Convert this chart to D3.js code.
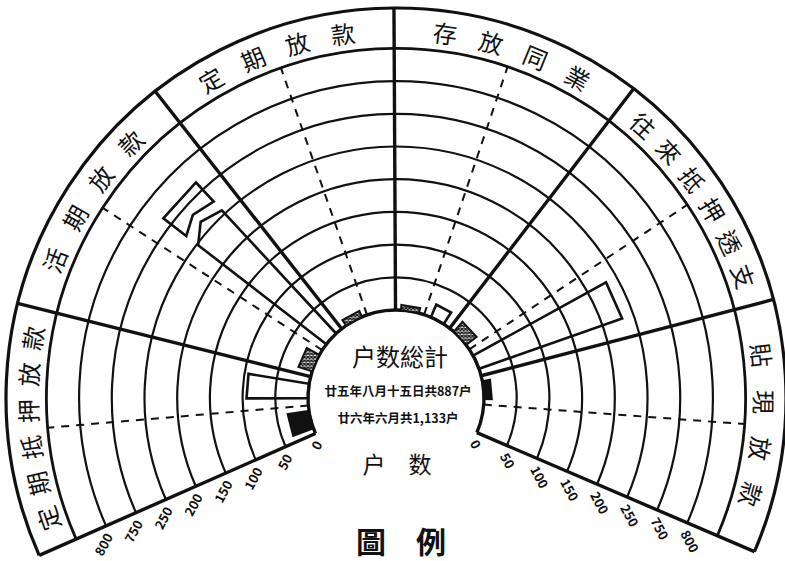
<!DOCTYPE html>
<html>
<head>
<meta charset="utf-8">
<script src="https://cdn.jsdelivr.net/npm/d3@7"></script>
<style>
  body { margin: 0; background: #fff; }
  svg { display: block; }
  text { font-family: "Noto Sans CJK TC", "Noto Sans CJK SC", sans-serif; fill: #111; }
</style>
</head>
<body>
<svg id="chart" width="785" height="561"></svg>
<script>
// loan categories, clockwise from the lower left
const categories = ["定期抵押放款", "活期放款", "定期放款", "存放同業", "往來抵押透支", "貼現放款"];
// households per category (filled bars in the first half, outlined bars in the second)
const filledCounts = [33, 22, 10, 8, 20, 12];
const outlineCounts = [94, 765, 0, 21, 232, 0];
const tickValues = [0, 50, 100, 150, 200, 250, 750, 800];
const totalLines = ["户数総計", "廿五年八月十五日共887户", "廿六年六月共1,133户"];

const svg = d3.select("#chart");
const cx = 396, cy = 398;
const r0 = 88, step = 32.7;
const deg = Math.PI / 180;

// broken radial scale: 250 → 750 takes one ring step
const r = d3.scaleLinear()
  .domain([0, 250, 750, 800])
  .range([r0, r0 + 5 * step, r0 + 6 * step, r0 + 7 * step]);
const bandInner = r0 + 8 * step;
const outerR = 390;

const a = d3.scaleLinear()
  .domain([0, categories.length])
  .range([-113.8 * deg, 113.2 * deg]);

const pt = (rad, ang) => [cx + rad * Math.sin(ang), cy - rad * Math.cos(ang)];

const arcPath = (R, a0, a1) => {
  const p = d3.path();
  p.arc(cx, cy, R, a0 - Math.PI / 2, a1 - Math.PI / 2);
  return p.toString();
};
const line = d3.line();

// hatch pattern for the small bars
const defs = svg.append("defs");
const hatch = defs.append("pattern")
  .attr("id", "hatch").attr("patternUnits", "userSpaceOnUse")
  .attr("width", 3.5).attr("height", 3.5);
hatch.append("rect").attr("width", 3.5).attr("height", 3.5).attr("fill", "#fff");
hatch.append("path").attr("d", "M0,0L3.5,3.5M3.5,0L0,3.5")
  .attr("stroke", "#111").attr("stroke-width", 1.3);

const g = svg.append("g").attr("fill", "none").attr("stroke", "#111");

// grid rings
g.selectAll("path.ring")
  .data(tickValues.slice(1))
  .join("path")
  .attr("class", "ring")
  .attr("d", v => arcPath(r(v), a(0), a(categories.length)))
  .attr("stroke-width", 2.2);

// inner circle, band and outer edge
g.append("path").attr("d", arcPath(r0, a(0), a(categories.length))).attr("stroke-width", 3.4);
g.append("path").attr("d", arcPath(bandInner, a(0), a(categories.length))).attr("stroke-width", 2.8);
g.append("path").attr("d", arcPath(outerR, a(0), a(categories.length))).attr("stroke-width", 3.2);

// dashed mid lines
g.selectAll("path.mid")
  .data(categories)
  .join("path")
  .attr("class", "mid")
  .attr("d", (d, i) => line([pt(r0, a(i + 0.5)), pt(bandInner, a(i + 0.5))]))
  .attr("stroke-width", 2)
  .attr("stroke-dasharray", "8,7");

// sector dividers and baselines
g.selectAll("path.div")
  .data(d3.range(categories.length + 1))
  .join("path")
  .attr("class", "div")
  .attr("d", i => line([pt(r0, a(i)), pt(outerR, a(i))]))
  .attr("stroke-width", 3.4);

// bars
const barAngles = (i, half, frac) => {
  const c = a(i + (half === 0 ? 0.25 : 0.75));
  const w = (a(0.5) - a(0)) * frac / 2;
  return [c - w, c + w];
};

const trapezoid = (a1, a2, rIn, rOut) =>
  line([pt(rIn, a1), pt(rOut, a1), pt(rOut, a2), pt(rIn, a2)]) + "Z";

filledCounts.forEach((v, i) => {
  if (!v) return;
  const [a1, a2] = barAngles(i, 0, 0.62);
  g.append("path")
    .attr("d", trapezoid(a1, a2, r0, r(v)))
    .attr("fill", i === 0 || i === 5 ? "#111" : "url(#hatch)")
    .attr("stroke-width", 2);
});

outlineCounts.forEach((v, i) => {
  if (!v) return;
  const [a1, a2] = barAngles(i, 1, 0.5);
  if (v <= 250) {
    g.append("path")
      .attr("d", trapezoid(a1, a2, r0, r(v)))
      .attr("stroke-width", 2.6);
    return;
  }
  // broken bar: inner piece with a zigzag end, outer piece beyond the break
  const am = a1 + (a2 - a1) * 0.46;
  const rb = r(250);
  g.append("path")
    .attr("d", line([pt(r0, a1), pt(rb - 1.5, a1), pt(rb + 11.5, am), pt(rb + 4.5, a2), pt(r0, a2)]))
    .attr("stroke-width", 2.6);
  g.append("path")
    .attr("d", line([pt(rb + 13.5, a1), pt(r(v), a1), pt(r(v), a2), pt(rb + 16.5, a2), pt(rb + 22, am)]) + "Z")
    .attr("stroke-width", 2.6);
});

// category labels along the band
const labelR = (bandInner + outerR) / 2 - 1;
categories.forEach((name, i) => {
  const chars = Array.from(name);
  const n = chars.length;
  const s = (n === 4 ? 7.3 : 5.7) * deg;
  const c = a(i + 0.5);
  chars.forEach((ch, j) => {
    const ang = c + (j - (n - 1) / 2) * s;
    const [x, y] = pt(labelR, ang);
    svg.append("text")
      .attr("transform", `translate(${x},${y}) rotate(${ang / deg})`)
      .attr("text-anchor", "middle")
      .attr("dominant-baseline", "central")
      .attr("font-size", 24)
      .text(ch);
  });
});

// tick labels along both baselines
const tickG = svg.append("g").attr("font-size", 13).attr("font-weight", "bold");
tickValues.forEach(v => {
  const [xr, yr] = pt(r(v), a(categories.length));
  tickG.append("text")
    .attr("transform", `translate(${xr},${yr}) rotate(62)`)
    .attr("x", 6).attr("y", 6)
    .attr("dominant-baseline", "central")
    .text(v);
  const [xl, yl] = pt(r(v), a(0));
  tickG.append("text")
    .attr("transform", `translate(${xl},${yl}) rotate(-62)`)
    .attr("x", -6).attr("y", 6)
    .attr("text-anchor", "end")
    .attr("dominant-baseline", "central")
    .text(v);
});

// centre totals
svg.append("text").attr("x", 400).attr("y", 355)
  .attr("text-anchor", "middle").attr("dominant-baseline", "central")
  .attr("font-size", 24).text(totalLines[0]);
svg.append("text").attr("x", 398).attr("y", 390)
  .attr("text-anchor", "middle").attr("dominant-baseline", "central")
  .attr("font-size", 12.5).attr("font-weight", "bold").text(totalLines[1]);
svg.append("text").attr("x", 398).attr("y", 417)
  .attr("text-anchor", "middle").attr("dominant-baseline", "central")
  .attr("font-size", 12.5).attr("font-weight", "bold").text(totalLines[2]);

svg.append("text").attr("x", 397).attr("y", 463)
  .attr("text-anchor", "middle").attr("dominant-baseline", "central")
  .attr("font-size", 23).text("户\u3000数");
svg.append("text").attr("x", 401).attr("y", 540)
  .attr("text-anchor", "middle").attr("dominant-baseline", "central")
  .attr("font-size", 30).attr("font-weight", "bold").text("圖\u3000例");
</script>
</body>
</html>
